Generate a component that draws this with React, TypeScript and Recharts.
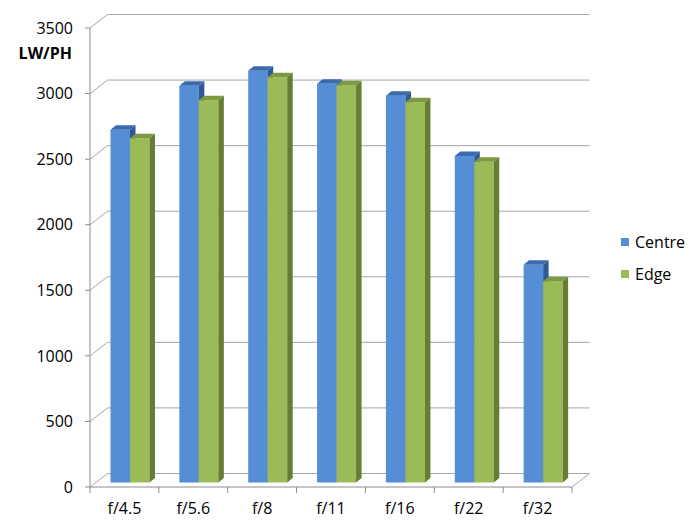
import React from 'react'
import { BarChart, Bar, XAxis, YAxis, CartesianGrid } from 'recharts'

const categories = ['f/4.5', 'f/5.6', 'f/8', 'f/11', 'f/16', 'f/22', 'f/32']
const centre = [2690, 3025, 3140, 3040, 2950, 2490, 1660]
const edge = [2625, 2915, 3090, 3030, 2900, 2445, 1535]
const yTicks = [0, 500, 1000, 1500, 2000, 2500, 3000, 3500]
const seriesNames = ['Centre', 'Edge']

const data = categories.map((c, i) => ({ name: c, centre: centre[i], edge: edge[i] }))

const FONT = '"Open Sans", Lato, sans-serif'
const W = 694
const H = 522
const PLOT_LEFT = 90
const PLOT_RIGHT = 572
const WALL_DX = 17.5
const WALL_DY = -13.5
const GRID = '#A6A6A6'
const AXIS = '#8C8C8C'

const colors = {
  centre: { front: '#558ED5', top: '#3A6BB0', side: '#2F5A96' },
  edge: { front: '#9BBB59', top: '#7E9A40', side: '#677D34' },
}

// bar sits part way into the depth of the floor
const OX = 5.5
const OY = -4.5
const DX = 5.5
const DY = -4.5

function make3DBar(c: { front: string; top: string; side: string }) {
  // eslint-disable-next-line @typescript-eslint/no-explicit-any
  return function Bar3D(props: any) {
    const { x, y, width, height } = props
    if (height == null || width == null) return null
    const fx = x + OX
    const fy = y + OY
    const top = `${fx},${fy} ${fx + DX},${fy + DY} ${fx + width + DX},${fy + DY} ${fx + width},${fy}`
    const side = `${fx + width},${fy} ${fx + width + DX},${fy + DY} ${fx + width + DX},${fy + height + DY} ${fx + width},${fy + height}`
    return (
      <g>
        <rect x={fx} y={fy} width={width} height={height} fill={c.front} />
        <polygon points={top} fill={c.top} />
        <polygon points={side} fill={c.side} />
      </g>
    )
  }
}

// eslint-disable-next-line @typescript-eslint/no-explicit-any
function WallLine(props: any) {
  const { x1, y1, x2, index } = props
  const bx = x1 + WALL_DX
  const by = y1 + WALL_DY
  const isFloor = index === 0 || Math.abs(y1 - (H - 35)) < 1
  return (
    <g>
      <line x1={x1} y1={y1} x2={bx} y2={by} stroke={GRID} strokeWidth={1} />
      <line x1={bx} y1={by} x2={x2 + WALL_DX} y2={by} stroke={GRID} strokeWidth={1} />
      {isFloor && (
        <line x1={x2} y1={y1} x2={x2 + WALL_DX} y2={by} stroke={GRID} strokeWidth={1} />
      )}
    </g>
  )
}

// eslint-disable-next-line @typescript-eslint/no-explicit-any
function XTick(props: any) {
  const { x, y, payload, index } = props
  const band = (PLOT_RIGHT - PLOT_LEFT) / categories.length
  const left = x - band / 2
  return (
    <g>
      <line x1={left} y1={y} x2={left} y2={y + 6} stroke={AXIS} />
      {index === categories.length - 1 && (
        <line x1={left + band} y1={y} x2={left + band} y2={y + 6} stroke={AXIS} />
      )}
      <text x={x} y={y + 23} textAnchor="middle" dominantBaseline="middle" fontSize={16} fontFamily={FONT} fill="#000">
        {payload.value}
      </text>
    </g>
  )
}

// eslint-disable-next-line @typescript-eslint/no-explicit-any
function YTitle(props: any) {
  const { viewBox } = props
  return (
    <text
      x={viewBox.x + viewBox.width - 18}
      y={viewBox.y + 27}
      textAnchor="end"
      dominantBaseline="middle"
      fontSize={16}
      fontWeight="bold"
      fontFamily={FONT}
      fill="#000"
    >
      LW/PH
    </text>
  )
}

export default function App() {
  const legendColors = [colors.centre.front, colors.edge.front]
  return (
    <div style={{ position: 'absolute', left: 0, top: 0, width: W, height: H, background: '#fff' }}>
      <BarChart
        width={W}
        height={H}
        data={data}
        margin={{ top: 28, right: W - PLOT_RIGHT, bottom: 0, left: 0 }}
        barGap={0}
        barSize={19.5}
      >
        <CartesianGrid horizontal={WallLine} vertical={false} />
        <XAxis
          dataKey="name"
          height={35}
          axisLine={{ stroke: AXIS }}
          tickLine={false}
          tickSize={0}
          tickMargin={0}
          tick={<XTick />}
          interval={0}
        />
        <YAxis
          width={PLOT_LEFT}
          domain={[0, 3500]}
          ticks={yTicks}
          interval={0}
          axisLine={{ stroke: AXIS }}
          tickLine={{ stroke: AXIS }}
          tickSize={5}
          tickMargin={12}
          tick={{ fill: '#000', fontSize: 16, fontFamily: FONT }}
          label={{ value: 'LW/PH', content: YTitle }}
        />
        <Bar dataKey="centre" name={seriesNames[0]} shape={make3DBar(colors.centre)} isAnimationActive={false} />
        <Bar dataKey="edge" name={seriesNames[1]} shape={make3DBar(colors.edge)} isAnimationActive={false} />
      </BarChart>
      {seriesNames.map((s, i) => (
        <div
          key={s}
          style={{
            position: 'absolute',
            left: 621,
            top: 232 + i * 32,
            display: 'flex',
            alignItems: 'center',
            fontFamily: FONT,
            fontSize: 16,
            color: '#000',
            lineHeight: '20px',
          }}
        >
          <span style={{ display: 'inline-block', width: 8, height: 8, background: legendColors[i], marginRight: 6 }} />
          {s}
        </div>
      ))}
    </div>
  )
}
